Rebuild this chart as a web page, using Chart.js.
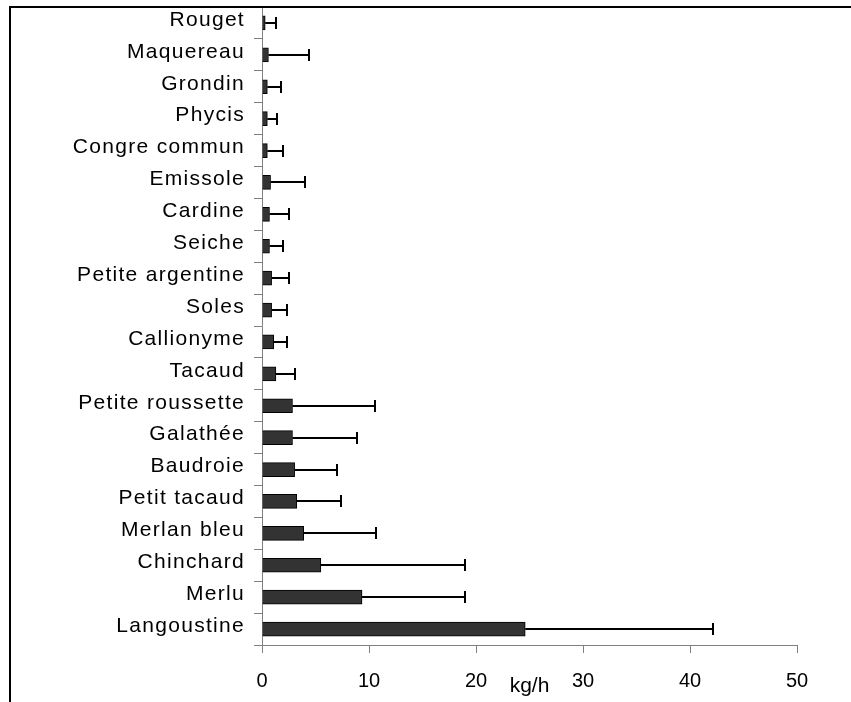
<!DOCTYPE html>
<html>
<head>
<meta charset="utf-8">
<script src="https://cdn.jsdelivr.net/npm/chart.js@4.4.1/dist/chart.umd.min.js"></script>
<style>
  html, body { margin: 0; padding: 0; background: #fff; }
  canvas { display: block; }
</style>
</head>
<body>
<canvas id="chart" width="851" height="702"></canvas>
<script>
// espèces, du haut vers le bas
const especes = ['Rouget', 'Maquereau', 'Grondin', 'Phycis', 'Congre commun', 'Emissole', 'Cardine', 'Seiche',
  'Petite argentine', 'Soles', 'Callionyme', 'Tacaud', 'Petite roussette', 'Galathée', 'Baudroie',
  'Petit tacaud', 'Merlan bleu', 'Chinchard', 'Merlu', 'Langoustine'];
// rendement moyen (kg/h)
const moyennes = [0.3, 0.6, 0.5, 0.5, 0.5, 0.8, 0.7, 0.7, 0.9, 0.9, 1.1, 1.3, 2.85, 2.85, 3.05, 3.25, 3.9, 5.5, 9.35, 24.6];
// écart-type (barre d'erreur vers la droite)
const ecarts = [1.0, 3.8, 1.3, 0.9, 1.5, 3.2, 1.8, 1.3, 1.6, 1.4, 1.2, 1.75, 7.75, 6.0, 4.0, 4.15, 6.8, 13.5, 9.65, 17.55];
const ticksX = [0, 10, 20, 30, 40, 50];

Chart.defaults.font.family = '"Liberation Sans", Arial, sans-serif';
Chart.defaults.color = '#000';

// axe des catégories avec un peu d'espacement entre les lettres
class SpacedCategoryScale extends Chart.CategoryScale {
  drawLabels(chartArea) {
    const ctx = this.ctx;
    ctx.save();
    ctx.letterSpacing = '1.3px';
    ctx.translate(0, -3);
    super.drawLabels(chartArea);
    ctx.restore();
  }
}
SpacedCategoryScale.id = 'spacedCategory';
SpacedCategoryScale.defaults = Chart.CategoryScale.defaults;
Chart.register(SpacedCategoryScale);

const errorBars = {
  id: 'errorBars',
  afterDatasetsDraw(chart) {
    const ctx = chart.ctx;
    const meta = chart.getDatasetMeta(0);
    const xs = chart.scales.x;
    ctx.save();
    ctx.strokeStyle = '#000';
    ctx.lineWidth = 2;
    meta.data.forEach((bar, i) => {
      const x0 = bar.x;
      const x1 = Math.round(xs.getPixelForValue(moyennes[i] + ecarts[i]));
      const y = Math.round(bar.y);
      ctx.beginPath();
      ctx.moveTo(x0, y);
      ctx.lineTo(x1, y);
      ctx.moveTo(x1, y - 6);
      ctx.lineTo(x1, y + 6);
      ctx.stroke();
    });
    ctx.restore();
  }
};

const frame = {
  id: 'frame',
  afterDraw(chart) {
    const ctx = chart.ctx;
    ctx.save();
    ctx.fillStyle = '#000';
    ctx.fillRect(9, 6, chart.width - 9, 2);
    ctx.fillRect(9, 6, 2, chart.height - 6);
    ctx.restore();
  }
};

new Chart(document.getElementById('chart').getContext('2d'), {
  type: 'bar',
  data: {
    labels: especes,
    datasets: [{
      data: moyennes,
      backgroundColor: '#333333',
      borderColor: '#000',
      borderWidth: 1,
      barThickness: 14
    }]
  },
  options: {
    indexAxis: 'y',
    responsive: false,
    animation: false,
    layout: { padding: { top: 7, right: 54, left: 0, bottom: 0 } },
    plugins: { legend: { display: false }, tooltip: { enabled: false } },
    scales: {
      x: {
        min: 0,
        max: 50,
        afterBuildTicks: (scale) => { scale.ticks = ticksX.map(v => ({ value: v })); },
        afterFit: (scale) => { scale.height = 57; scale.paddingLeft = 0; scale.paddingRight = 0; },
        grid: { drawOnChartArea: false, tickLength: 8, color: '#808080' },
        border: { color: '#808080', width: 1 },
        ticks: { font: { size: 20 }, padding: 16 },
        title: { display: true, text: 'kg/h', font: { size: 21 }, padding: { top: 0, bottom: 3 } }
      },
      y: {
        type: 'spacedCategory',
        afterFit: (scale) => { scale.width = 262; scale.paddingTop = 0; scale.paddingBottom = 0; },
        grid: { offset: true, drawOnChartArea: false, tickLength: 8, color: '#808080' },
        border: { color: '#808080', width: 1 },
        ticks: { font: { size: 21 }, padding: 9 }
      }
    }
  },
  plugins: [errorBars, frame]
});
</script>
</body>
</html>
